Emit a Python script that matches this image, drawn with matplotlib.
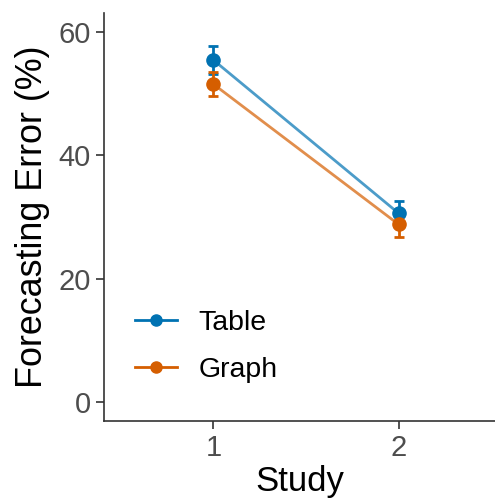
import matplotlib
matplotlib.use("Agg")
import matplotlib.pyplot as plt
import numpy as np

plt.rcParams['font.family'] = ['Liberation Sans', 'DejaVu Sans']

studies = [1, 2]
groups = ["Table", "Graph"]
table_mean = [55.4, 30.6]
table_se = [2.2, 2.0]
graph_mean = [51.5, 28.8]
graph_se = [2.0, 2.0]
colors = ["#0072B2", "#D55E00"]

fig = plt.figure(figsize=(4.95, 5.03), dpi=100)
ax = fig.add_axes([104/495, (503-421)/503, (495-104)/495, (421-13)/503])

for mean, se, col, lab in [(table_mean, table_se, colors[0], groups[0]),
                           (graph_mean, graph_se, colors[1], groups[1])]:
    ax.plot(studies, mean, color=col, lw=2, alpha=0.7, zorder=2)
    ax.errorbar(studies, mean, yerr=se, fmt='none', ecolor=col, elinewidth=2,
                capsize=3.3, capthick=2, zorder=3)
    ax.plot(studies, mean, 'o', color=col, ms=9.5, zorder=4)
    ax.plot([], [], '-o', color=col, lw=2, ms=8, label=lab)

ax.set_xlim(0.41, 2.52)
ax.set_ylim(-3, 63)
ax.set_xticks(studies)
ax.set_yticks([0, 20, 40, 60])
for s in ['top', 'right']:
    ax.spines[s].set_visible(False)
for s in ['left', 'bottom']:
    ax.spines[s].set_color('#333333')
    ax.spines[s].set_linewidth(1.2)
ax.tick_params(axis='both', colors='#333333', labelcolor='#4D4D4D',
               labelsize=21, length=5.5, width=1.2, pad=4)
ax.set_xlabel("Study", fontsize=25, labelpad=2)
ax.set_ylabel("Forecasting Error (%)", fontsize=25.8, labelpad=6)

leg = ax.legend(loc='center left', bbox_to_anchor=(0.015, 0.183), frameon=False,
                fontsize=20.5, handlelength=1.45, labelspacing=0.75, handletextpad=0.75)

fig.savefig("out.png", dpi=100)
